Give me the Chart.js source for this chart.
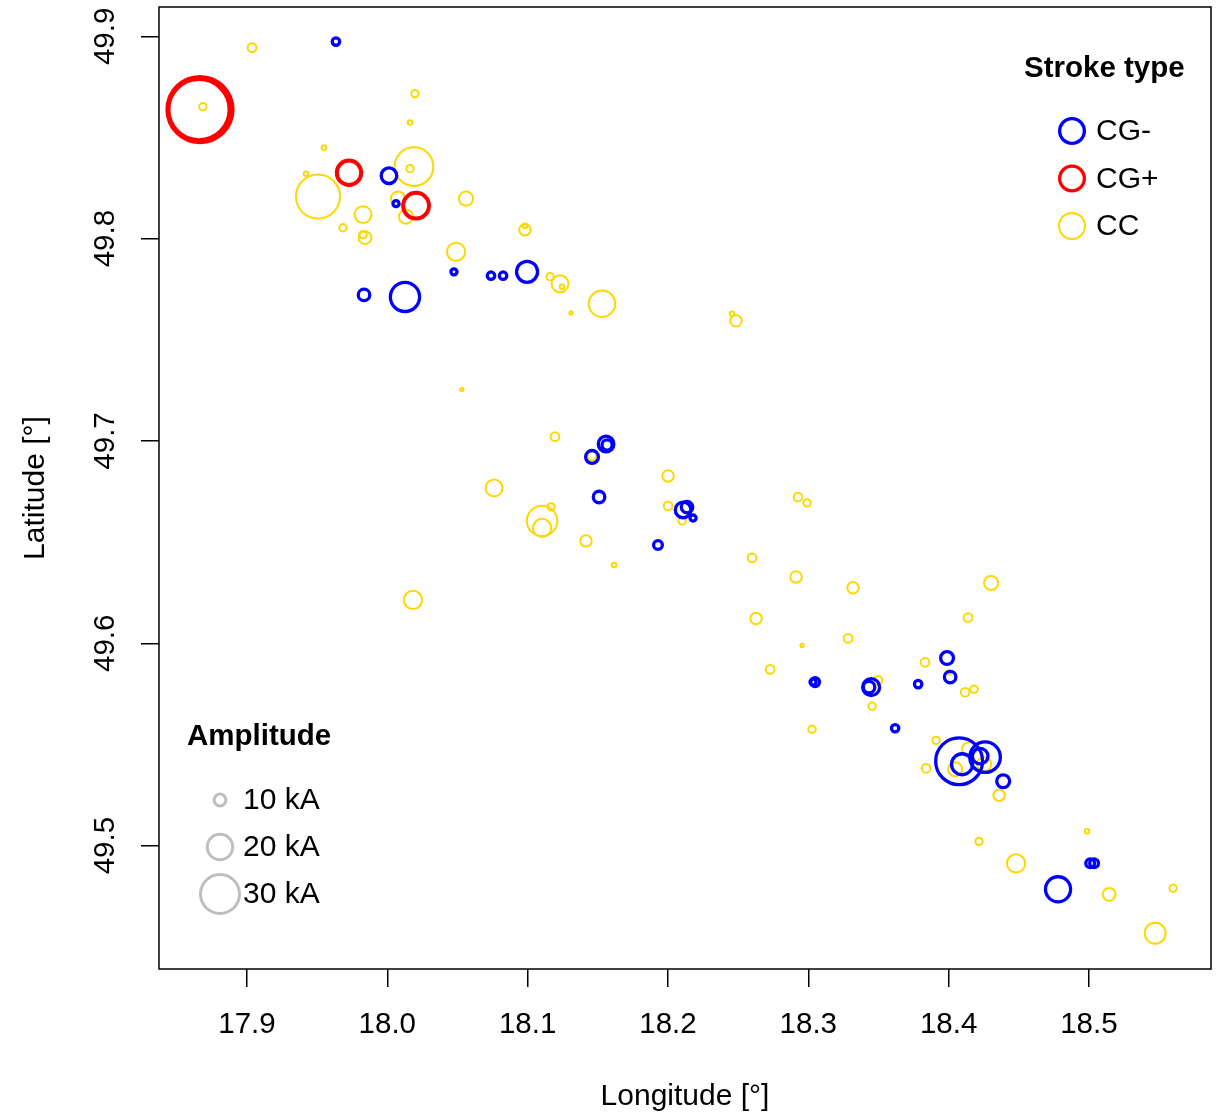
<!DOCTYPE html>
<html>
<head>
<meta charset="utf-8">
<script src="https://cdn.jsdelivr.net/npm/chart.js@4.4.1/dist/chart.umd.min.js"></script>
<style>
  body { margin: 0; background: #fff; }
  canvas { display: block; }
</style>
</head>
<body>
<canvas id="strokes" width="1223" height="1115"></canvas>
<script>
// --- DATA: [longitude, latitude, amplitude kA] ---
const xTicks = [17.9, 18.0, 18.1, 18.2, 18.3, 18.4, 18.5];
const yTicks = [49.5, 49.6, 49.7, 49.8, 49.9];
const ampLegend = [10, 20, 30];
const strokeTypes = ['CG-', 'CG+', 'CC'];

const cgNeg = [
  [17.9634, 49.8974, 7], [18.0012, 49.8311, 13], [18.0062, 49.8173, 6],
  [18.0475, 49.7836, 6], [18.0739, 49.7817, 7], [18.0825, 49.7817, 7],
  [18.0996, 49.7836, 17], [17.9834, 49.7722, 10], [18.0126, 49.7712, 23],
  [18.1559, 49.6985, 13], [18.1566, 49.6980, 9], [18.1459, 49.6921, 11],
  [18.1509, 49.6723, 10], [18.2108, 49.6659, 13], [18.2136, 49.6673, 10],
  [18.2179, 49.6619, 6], [18.1929, 49.6486, 8], [18.3049, 49.5808, 8],
  [18.3034, 49.5808, 6], [18.3448, 49.5783, 14], [18.3433, 49.5783, 10],
  [18.3989, 49.5927, 11], [18.4011, 49.5833, 10], [18.3783, 49.5798, 7],
  [18.3619, 49.5580, 7], [18.4075, 49.5417, 36], [18.4096, 49.5402, 17],
  [18.4260, 49.5437, 24], [18.4225, 49.5442, 13], [18.4389, 49.5318, 11],
  [18.5009, 49.4913, 8], [18.5037, 49.4913, 8], [18.4780, 49.4784, 20]
];

const cgPos = [
  [17.8665, 49.8638, 50], [17.8658, 49.8638, 47],
  [17.9727, 49.8326, 20], [18.0205, 49.8163, 21]
];

const cc = [
  [17.9036, 49.8944, 7], [17.8686, 49.8652, 6], [18.0197, 49.8717, 6],
  [18.0162, 49.8574, 4], [17.9549, 49.8450, 4], [17.9421, 49.8321, 4],
  [17.9506, 49.8208, 33], [18.0190, 49.8356, 29], [18.0162, 49.8346, 6],
  [18.0076, 49.8198, 11], [18.0133, 49.8109, 11], [18.0561, 49.8198, 11],
  [17.9827, 49.8119, 13], [17.9684, 49.8054, 6], [17.9841, 49.8005, 10],
  [17.9827, 49.8020, 6], [18.0981, 49.8044, 9], [18.0981, 49.8064, 4],
  [18.0490, 49.7935, 14], [18.1160, 49.7812, 6], [18.1231, 49.7777, 13],
  [18.1245, 49.7762, 4], [18.1309, 49.7633, 3], [18.1530, 49.7678, 20],
  [18.2485, 49.7594, 9], [18.2457, 49.7629, 4], [18.0532, 49.7254, 3],
  [18.1195, 49.7021, 7], [18.1459, 49.6926, 7], [18.2001, 49.6827, 9],
  [18.0761, 49.6768, 13], [18.2001, 49.6679, 7], [18.2101, 49.6605, 6],
  [18.1103, 49.6605, 23], [18.1103, 49.6570, 14], [18.1167, 49.6674, 6],
  [18.1416, 49.6506, 9], [18.1616, 49.6387, 4], [18.0183, 49.6214, 14],
  [18.2927, 49.6723, 7], [18.2991, 49.6694, 6], [18.2599, 49.6422, 7],
  [18.2913, 49.6328, 9], [18.3319, 49.6274, 9], [18.4303, 49.6298, 11],
  [18.2628, 49.6122, 9], [18.4139, 49.6127, 7], [18.2956, 49.5989, 3],
  [18.3284, 49.6024, 7], [18.2728, 49.5871, 7], [18.3497, 49.5817, 7],
  [18.3832, 49.5906, 7], [18.4004, 49.5857, 4], [18.4118, 49.5758, 7],
  [18.4182, 49.5773, 6], [18.3455, 49.5689, 6], [18.3027, 49.5575, 6],
  [18.3911, 49.5520, 6], [18.3840, 49.5382, 7], [18.4047, 49.5377, 11],
  [18.4146, 49.5476, 11], [18.4253, 49.5402, 11], [18.4360, 49.5249, 9],
  [18.4987, 49.5071, 4], [18.4217, 49.5021, 6], [18.4481, 49.4912, 14],
  [18.5144, 49.4759, 10], [18.5600, 49.4789, 6], [18.5472, 49.4567, 16]
];

// --- STYLE ---
const FONT = '"Liberation Sans", Arial, sans-serif';
const colors = { 'CG-': '#0000ff', 'CG+': '#ff0000', 'CC': '#ffd700' };
const widths = { 'CG-': 3.3, 'CG+': 4, 'CC': 2 };

// outer radius grows linearly with amplitude
function radiusFor(kA, bw) {
  return Math.max(0.68 * kA + 0.6 - bw / 2, 1);
}

function toPoints(rows) {
  return rows.map(r => ({ x: r[0], y: r[1], a: r[2] }));
}

function makeDataset(label, rows, order) {
  const bw = widths[label];
  return {
    label: label,
    data: toPoints(rows),
    order: order,
    showLine: false,
    backgroundColor: 'rgba(0,0,0,0)',
    borderColor: colors[label],
    borderWidth: bw,
    pointRadius: c => radiusFor(c.raw.a, bw),
    pointHoverRadius: c => radiusFor(c.raw.a, bw),
  };
}

// --- AXES, FRAME & LEGENDS ---
const decorations = {
  id: 'decorations',
  afterDraw(chart) {
    const { ctx, chartArea: a, scales: { x, y } } = chart;
    ctx.save();
    ctx.strokeStyle = '#000';
    ctx.lineWidth = 1.5;
    ctx.strokeRect(a.left, a.top, a.right - a.left, a.bottom - a.top);

    ctx.fillStyle = '#000';
    ctx.font = '29.5px ' + FONT;
    ctx.textAlign = 'center';
    ctx.textBaseline = 'middle';
    xTicks.forEach(v => ctx.fillText(v.toFixed(1), x.getPixelForValue(v), 1025));
    yTicks.forEach(v => {
      ctx.save();
      ctx.translate(106, y.getPixelForValue(v));
      ctx.rotate(-Math.PI / 2);
      ctx.fillText(v.toFixed(1), 0, 0);
      ctx.restore();
    });

    // axis titles
    ctx.font = '30px ' + FONT;
    ctx.fillText('Longitude [°]', (a.left + a.right) / 2, 1097);
    ctx.save();
    ctx.translate(36, (a.top + a.bottom) / 2);
    ctx.rotate(-Math.PI / 2);
    ctx.fillText('Latitude [°]', 0, 0);
    ctx.restore();

    // stroke type legend
    ctx.textAlign = 'left';
    ctx.font = 'bold 29.5px ' + FONT;
    ctx.fillText('Stroke type', 1024, 69);
    ctx.font = '30px ' + FONT;
    strokeTypes.forEach((t, i) => {
      const cy = 131 + i * 47.5;
      ctx.beginPath();
      ctx.lineWidth = t === 'CC' ? 2 : 3.3;
      ctx.strokeStyle = colors[t];
      ctx.arc(1072, cy, 14 - ctx.lineWidth / 2, 0, Math.PI * 2);
      ctx.stroke();
      ctx.fillText(t, 1096, cy + 1);
    });

    // amplitude legend
    ctx.font = 'bold 29.5px ' + FONT;
    ctx.fillText('Amplitude', 187, 737);
    ctx.font = '30px ' + FONT;
    ampLegend.forEach((kA, i) => {
      const cy = 800 + i * 47;
      ctx.beginPath();
      ctx.lineWidth = 3;
      ctx.strokeStyle = '#bebebe';
      ctx.arc(220, cy, radiusFor(kA, 3), 0, Math.PI * 2);
      ctx.stroke();
      ctx.fillText(kA + ' kA', 243, cy + 1);
    });
    ctx.restore();
  }
};

const ctx = document.getElementById('strokes').getContext('2d');
new Chart(ctx, {
  type: 'scatter',
  data: {
    datasets: [
      makeDataset('CC', cc, 3),
      makeDataset('CG-', cgNeg, 2),
      makeDataset('CG+', cgPos, 1),
    ]
  },
  options: {
    responsive: false,
    animation: false,
    layout: { autoPadding: false, padding: { left: 0, top: 7, right: 12, bottom: 0 } },
    plugins: { legend: { display: false }, tooltip: { enabled: false } },
    scales: {
      x: {
        type: 'linear',
        min: 17.8373,
        max: 18.587,
        afterBuildTicks: s => { s.ticks = xTicks.map(v => ({ value: v })); },
        afterFit: s => { s.height = 146; },
        ticks: { display: false },
        grid: { drawOnChartArea: false, drawTicks: true, tickLength: 18, color: '#000', lineWidth: 1.5 },
        border: { display: false },
      },
      y: {
        type: 'linear',
        min: 49.439,
        max: 49.9145,
        afterBuildTicks: s => { s.ticks = yTicks.map(v => ({ value: v })); },
        afterFit: s => { s.width = 159; },
        ticks: { display: false },
        grid: { drawOnChartArea: false, drawTicks: true, tickLength: 18, color: '#000', lineWidth: 1.5 },
        border: { display: false },
      }
    }
  },
  plugins: [decorations]
});
</script>
</body>
</html>
